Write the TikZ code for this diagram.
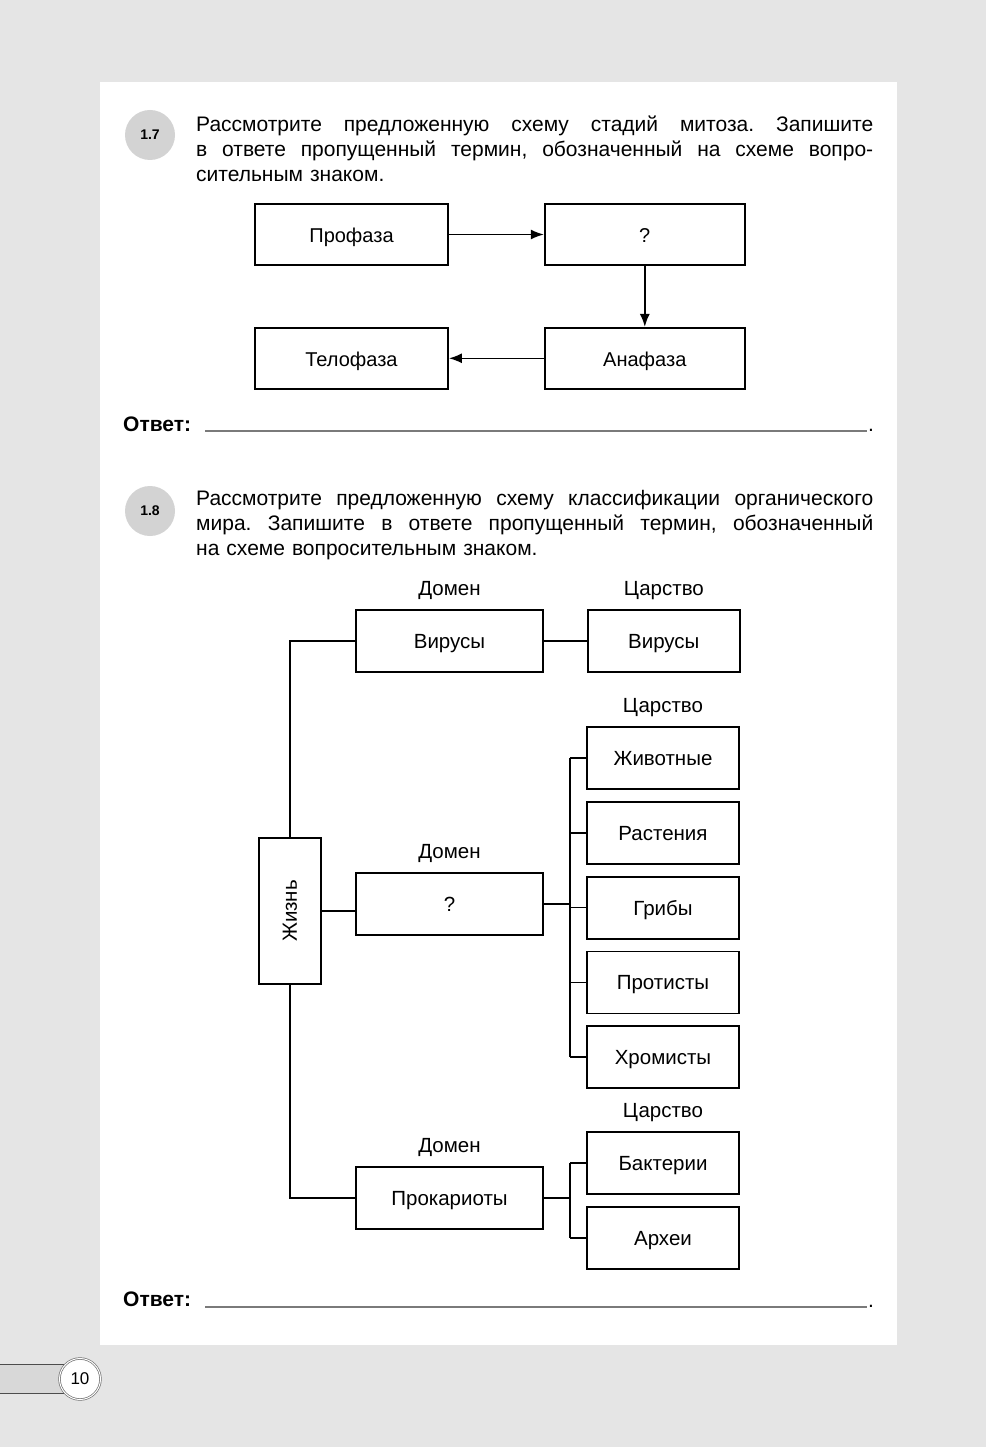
\documentclass[tikz,border=0pt]{standalone}
\usepackage{fontspec}
\setmainfont{Liberation Sans}
\usetikzlibrary{arrows.meta,positioning}
\definecolor{PageGray}{HTML}{E5E5E5}
\definecolor{BadgeGray}{HTML}{D3D3D3}
\definecolor{BarGray}{HTML}{D8D8D8}
\definecolor{RuleGray}{HTML}{7A7A7A}
\frenchspacing
\newcommand{\bodytext}{\fontsize{21}{25}\selectfont}
\newcommand{\stagetext}{\fontsize{20}{24}\selectfont}
\newcommand{\boxtext}{\fontsize{20.5}{24}\selectfont}
\newcommand{\fullline}[1]{{\spaceskip=0pt\xspaceskip=0pt\makebox[677pt][s]{#1}}}
\tikzset{
    stage/.style = {draw, rectangle, line width=1.8pt,
        minimum height=61pt, font=\stagetext,
        text height=15.5pt, text depth=0pt},
    domainbox/.style = {draw, rectangle, line width=1.8pt,
        minimum width=187pt, minimum height=62pt, font=\boxtext,
        text height=15pt, text depth=0pt},
    kingdombox/.style = {draw, rectangle, line width=1.8pt,
        minimum width=152pt, minimum height=62pt, font=\boxtext,
        text height=15pt, text depth=0pt},
    rank/.style = {font=\boxtext, inner sep=0pt},
    arrow/.style = {draw, line width=1.6pt, -{Latex[length=13pt,width=10pt]}},
    link/.style = {draw, line width=1.6pt},
    badge/.style = {circle, fill=BadgeGray, minimum size=50pt, inner sep=0pt,
        font=\fontsize{14}{14}\selectfont\bfseries},
    task/.style = {anchor=north west, inner sep=0pt, text width=677pt,
        font=\bodytext},
    answer/.style = {anchor=base west, inner sep=0pt,
        font=\fontsize{21}{21}\selectfont\bfseries}
}

\begin{document}
\begin{tikzpicture}[x=1pt,y=-1pt]
    \useasboundingbox (0,0) rectangle (986,1447);
    \fill[PageGray] (0,0) rectangle (986,1447);
    \fill[white] (100,82) rectangle (897,1345);

    % task 1.7
    \node[badge] (b17) at (150,135) {1.7};
    \node[task] (t17) at (196,116) {%
        \fullline{Рассмотрите предложенную схему стадий митоза. Запишите}\\
        \fullline{в ответе пропущенный термин, обозначенный на схеме вопро-}\\
        сительным знаком.};

    \node[stage, minimum width=193pt] (prof) at (351.5,234.5) {Профаза};
    \node[stage, minimum width=200pt, right=95pt of prof] (meta) {?};
    \node[stage, minimum width=200pt, below=61pt of meta] (ana) {Анафаза};
    \node[stage, minimum width=193pt, left=95pt of ana] (telo) {Телофаза};
    \draw[arrow] (prof) -- (meta);
    \draw[arrow] (meta) -- (ana);
    \draw[arrow] (ana) -- (telo);

    \node[answer] (ans17) at (123,431) {Ответ:};
    \draw[RuleGray, line width=1.3pt] (205,431) -- (867,431);
    \node[answer, font=\bodytext] (dot17) at (868,431) {.};

    % task 1.8
    \node[badge] (b18) at (150,511) {1.8};
    \node[task] (t18) at (196,490) {%
        \fullline{Рассмотрите предложенную схему классификации органического}\\
        \fullline{мира. Запишите в ответе пропущенный термин, обозначенный}\\
        на схеме вопросительным знаком.};

    \node[draw, line width=1.8pt, minimum width=62pt, minimum height=146pt,
        font=\boxtext] (life) at (290,911) {\rotatebox{90}{Жизнь}};

    \node[domainbox] (dv) at (449.5,641) {Вирусы};
    \node[domainbox] (dq) at (449.5,904) {?};
    \node[domainbox] (dp) at (449.5,1198) {Прокариоты};
    \foreach \d in {dv,dq,dp}
        \node[rank, above=9pt of \d] {Домен};

    \node[kingdombox, right=43pt of dv] (kv) {Вирусы};
    \node[kingdombox] (ka) at (663,758) {Животные};
    \node[kingdombox, below=11pt of ka] (kr) {Растения};
    \node[kingdombox, below=11pt of kr] (kg) {Грибы};
    \node[kingdombox, below=11pt of kg] (kp) {Протисты};
    \node[kingdombox, below=11pt of kp] (kh) {Хромисты};
    \node[kingdombox] (kb) at (663,1163) {Бактерии};
    \node[kingdombox, below=11pt of kb] (kar) {Археи};
    \foreach \k in {kv,ka,kb}
        \node[rank, above=9pt of \k] {Царство};

    \draw[link] (life.north) |- (dv.west);
    \draw[link] (life.south) |- (dp.west);
    \draw[link] (life.east) -- (life.east -| dq.west);
    \draw[link] (dv) -- (kv);

    \coordinate[xshift=26pt] (busq) at (dq.east);
    \draw[link] (dq.east) -- (busq);
    \draw[link] (busq |- ka.west) -- (busq |- kh.west);
    \foreach \k in {ka,kr,kg,kp,kh}
        \draw[link] (busq |- \k.west) -- (\k.west);

    \coordinate[xshift=26pt] (busp) at (dp.east);
    \draw[link] (dp.east) -- (busp);
    \draw[link] (busp |- kb.west) -- (busp |- kar.west);
    \foreach \k in {kb,kar}
        \draw[link] (busp |- \k.west) -- (\k.west);

    \node[answer] (ans18) at (123,1306) {Ответ:};
    \draw[RuleGray, line width=1.3pt] (205,1307) -- (867,1307);
    \node[answer, font=\bodytext] (dot18) at (868,1307) {.};

    % page number
    \filldraw[fill=BarGray, draw=black!70, line width=1pt] (-2,1364) rectangle (66,1393);
    \node[circle, fill=white, draw=black!55, double=white, double distance=1pt,
        line width=0.7pt, minimum size=41pt, inner sep=0pt,
        font=\fontsize{17}{17}\selectfont] (page) at (80,1379) {10};
\end{tikzpicture}
\end{document}
